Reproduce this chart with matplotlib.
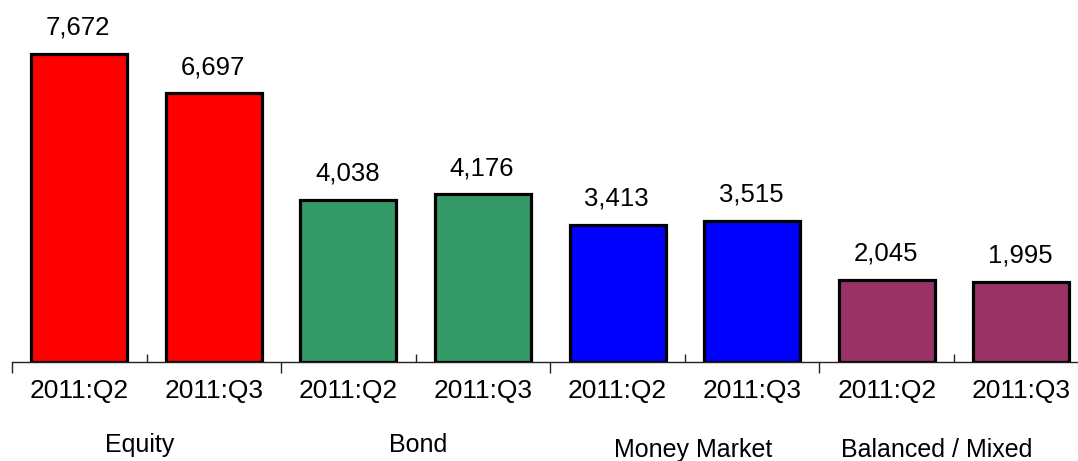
import matplotlib
matplotlib.use("Agg")
import matplotlib.pyplot as plt
import numpy as np

plt.rcParams['font.family'] = ['Liberation Sans', 'DejaVu Sans']

categories = ["Equity", "Bond", "Money Market", "Balanced / Mixed"]
periods = ["2011:Q2", "2011:Q3"]
values = [7672, 6697, 4038, 4176, 3413, 3515, 2045, 1995]
colors = ["#FF0000", "#339966", "#0000FF", "#993366"]

# layout for the category captions (slot x position, axes-fraction baseline)
cat_x = [0.45, 2.52, 4.56, 6.37]
cat_y = [-0.248, -0.248, -0.264, -0.264]

W, H = 1078, 461
fig = plt.figure(figsize=(W / 100, H / 100), dpi=100)
ax = fig.add_axes([12 / W, 99 / H, 8 * 134.57 / W, 361.4 / H])

n = len(values)
x = np.arange(n)
bar_colors = [colors[i // 2] for i in range(n)]
bars = ax.bar(x, values, width=0.713, color=bar_colors, edgecolor="black", linewidth=2.3)

for xi, v in zip(x, values):
    ax.annotate(f"{v:,}", xy=(xi, v), xytext=(-1, 19), textcoords="offset pixels",
                ha="center", va="baseline", fontsize=18.5, color="black")

ax.set_xlim(-0.5, n - 0.5)
ax.set_ylim(0, 9000)
ax.set_yticks([])
for s in ["left", "right", "top"]:
    ax.spines[s].set_visible(False)
ax.spines["bottom"].set_linewidth(1.0)
ax.spines["bottom"].set_color("#222222")

ax.set_xticks(x)
ax.set_xticklabels([periods[i % 2] for i in range(n)], fontsize=19)
ax.tick_params(axis="x", which="major", length=0, pad=12.5)

group_bounds = np.arange(-0.5, n, 2.0)
inner_bounds = np.arange(0.5, n, 2.0)
ax.set_xticks(group_bounds, minor=True)
ax.tick_params(axis="x", which="minor", direction="out", length=8, width=1, color="#222222")

sec = ax.secondary_xaxis("bottom")
sec.set_xticks(inner_bounds, labels=[""] * len(inner_bounds))
sec.tick_params(direction="in", length=6, width=1, color="#222222")
sec.spines["bottom"].set_visible(False)

trans = ax.get_xaxis_transform()
for cx, cy, name in zip(cat_x, cat_y, categories):
    ax.text(cx, cy, name, transform=trans, ha="center", va="baseline", fontsize=18)

fig.savefig("out.png", dpi=100)
